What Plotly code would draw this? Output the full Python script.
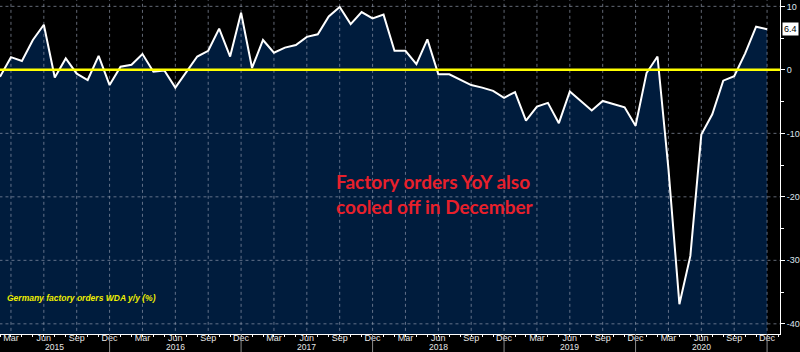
import plotly.graph_objects as go

# Month index: 0 = Jan 2015
months = list(range(1, 72))  # Feb 2015 .. Dec 2020
orders_yoy = [
    -1.1, 2.0, 1.4, 4.7, 7.1, -1.2, 1.8, -0.6, -1.6, 2.2, -2.4,          # Feb-Dec 2015
    0.5, 0.8, 2.5, -0.3, -0.1, -2.8, -0.4, 2.1, 3.0, 6.5, 2.1, 9.0,      # 2016
    0.3, 4.7, 2.7, 3.5, 3.9, 5.2, 5.6, 8.4, 9.9, 7.2, 9.1, 8.1,          # 2017
    8.7, 3.0, 3.0, 0.9, 4.8, -0.7, -0.7, -1.6, -2.4, -2.8, -3.3, -4.4,   # 2018
    -3.5, -8.0, -5.8, -5.2, -8.4, -3.4, -4.9, -6.4, -4.9, -5.4, -5.9, -8.8,  # 2019
    -0.5, 2.1, -15.6, -36.9, -29.3, -10.2, -7.0, -1.7, -1.0, 2.6, 6.8, 6.4,  # 2020
]
years = [2015, 2016, 2017, 2018, 2019, 2020]
quarter_names = ["Mar", "Jun", "Sep", "Dec"]
y_tick_vals = [10, 0, -10, -20, -30, -40]
y_tick_text = ["10", "0", "-10", "-20", "-30", "-40"]
last_label = "6.4"
series_name = "Germany factory orders WDA y/y (%)"
note = "Factory orders YoY also<br>cooled off in December"

X_RANGE = [1, 72.18]
Y_RANGE = [-41.6, 11.0]

tick_vals = [12 * i + q for i in range(len(years)) for q in (2, 5, 8, 11)]
tick_text = [quarter_names[k % 4] for k in range(len(tick_vals))]

grid_col = "rgba(150,160,178,0.65)"

fig = go.Figure()

# baseline for fill
fig.add_trace(go.Scatter(x=months, y=[-60] * len(months), mode="lines",
                         line=dict(width=0), hoverinfo="skip", showlegend=False))
fig.add_trace(go.Scatter(x=months, y=orders_yoy, mode="lines", fill="tonexty",
                         fillcolor="#001c3d", line=dict(width=0),
                         hoverinfo="skip", showlegend=False))

# dotted grid (drawn above the fill)
gx, gy = [], []
for v in tick_vals:
    gx += [v, v, None]
    gy += [-60, 60, None]
fig.add_trace(go.Scatter(x=gx, y=gy, mode="lines",
                         line=dict(color=grid_col, width=1, dash="dot"),
                         hoverinfo="skip", showlegend=False))
hx, hy = [], []
for v in y_tick_vals:
    if v == 0:
        continue
    hx += [-10, 100, None]
    hy += [v, v, None]
fig.add_trace(go.Scatter(x=hx, y=hy, mode="lines",
                         line=dict(color=grid_col, width=1, dash="dot"),
                         hoverinfo="skip", showlegend=False))

# main line
fig.add_trace(go.Scatter(x=months, y=orders_yoy, mode="lines",
                         line=dict(color="white", width=2),
                         name=series_name, showlegend=False))

# zero line
fig.add_trace(go.Scatter(x=[-10, 100], y=[0, 0], mode="lines",
                         line=dict(color="#ffff00", width=2.5),
                         hoverinfo="skip", showlegend=False))

shapes = []
for i in range(len(years)):
    b = 12 * i + 11
    shapes.append(dict(type="line", xref="x", yref="paper", x0=b, x1=b,
                       y0=0, y1=-0.07, line=dict(color="#8a8a8a", width=1)))

annotations = []
for i, yr in enumerate(years):
    lo = max(X_RANGE[0], 12 * i - 1)
    hi = 12 * i + 11
    annotations.append(dict(x=(lo + hi) / 2, y=-0.0385, xref="x", yref="paper",
                            text=str(yr), showarrow=False, yanchor="middle",
                            font=dict(family="Liberation Sans", size=8.5, color="#e6e6e6")))

annotations.append(dict(x=335 / 783, y=1 - 194 / 334, xref="paper", yref="paper",
                        text=note, showarrow=False, xanchor="left", yanchor="middle",
                        align="left",
                        font=dict(family="Lato", size=19, color="#e8202b", weight="bold")))
annotations.append(dict(x=5 / 783, y=1 - 298 / 334, xref="paper", yref="paper",
                        text="<i>" + series_name + "</i>", showarrow=False,
                        xanchor="left", yanchor="middle",
                        font=dict(family="Liberation Sans", size=8.5, color="#f0f000",
                                  weight="bold")))
annotations.append(dict(x=1.003, y=orders_yoy[-1], xref="paper", yref="y",
                        text=last_label, showarrow=False, xanchor="left", yanchor="middle",
                        bgcolor="white", borderpad=1,
                        font=dict(family="Liberation Sans", size=9, color="black")))

fig.update_layout(
    width=800, height=352,
    margin=dict(l=0, r=17, t=0, b=18),
    paper_bgcolor="black", plot_bgcolor="black",
    shapes=shapes, annotations=annotations,
    xaxis=dict(range=X_RANGE, showgrid=False, zeroline=False,
               tickmode="array", tickvals=tick_vals, ticktext=tick_text,
               ticks="outside", ticklen=2, tickcolor="white",
               ticklabelstandoff=-7,
               minor=dict(dtick=1, tick0=0, ticks="outside", ticklen=2, tickcolor="white"),
               showline=True, linecolor="white", linewidth=1,
               tickfont=dict(family="Liberation Sans", size=9, color="#e6e6e6")),
    yaxis=dict(range=Y_RANGE, side="right", showgrid=False, zeroline=False,
               tickmode="array", tickvals=y_tick_vals, ticktext=y_tick_text,
               ticks="outside", ticklen=4, tickcolor="white",
               minor=dict(dtick=5, tick0=0, ticks="outside", ticklen=3, tickcolor="white"),
               showline=True, linecolor="white", linewidth=1,
               tickfont=dict(family="Liberation Sans", size=9, color="#dde4ee")),
)

fig.write_html("out.html")
